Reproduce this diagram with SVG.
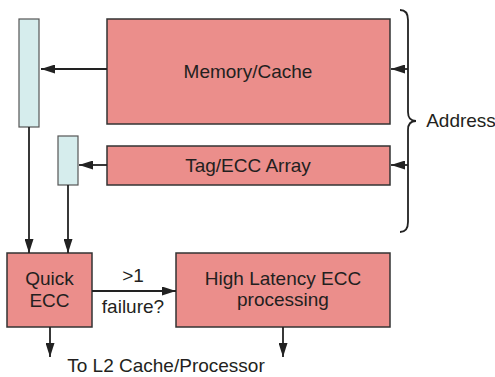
<svg xmlns="http://www.w3.org/2000/svg" width="495" height="377" viewBox="0 0 495 377">
<style>
.box{fill:#eb8e8b;stroke:#333;stroke-width:1.5}
.reg{fill:#d6eded;stroke:#555;stroke-width:1.2}
.ln{fill:none;stroke:#222;stroke-width:1.8}
text{font-family:"Liberation Sans",Arial,sans-serif;font-size:19px;fill:#231f20;text-anchor:middle}
</style>
<defs>
<marker id="ah" markerWidth="14" markerHeight="9" refX="14" refY="4.5" orient="auto" markerUnits="userSpaceOnUse">
<path d="M0,0 L14,4.5 L0,9 z" fill="#222"/>
</marker>
</defs>
<g id="mem"><rect class="box" x="107" y="19" width="283" height="105"/><text x="248" y="78">Memory/Cache</text></g>
<g id="tag"><rect class="box" x="107" y="146" width="283" height="39"/><text x="248" y="172">Tag/ECC Array</text></g>
<g id="bar1"><rect class="reg" x="19" y="19" width="20" height="108"/></g>
<g id="bar2"><rect class="reg" x="58" y="136" width="20" height="49"/></g>
<g id="quick"><rect class="box" x="7" y="253" width="85" height="74"/><text x="49.5" y="285">Quick</text><text x="49.5" y="307">ECC</text></g>
<g id="high"><rect class="box" x="176" y="253" width="214" height="74"/><text x="283" y="285">High Latency ECC</text><text x="283" y="306">processing</text></g>
<g id="address"><path class="ln" stroke-width="1.3" d="M400,10 Q408,10 408,20 L408,112 Q408,121 416,121 Q408,121 408,130 L408,222 Q408,232 400,232"/><text x="461" y="127">Address</text></g>
<g id="labels"><text x="133" y="282">&gt;1</text><text x="133" y="313">failure?</text><text x="166" y="372">To L2 Cache/Processor</text></g>
<g id="connectors">
<line class="ln" x1="107" y1="69" x2="41" y2="69" marker-end="url(#ah)"/>
<line class="ln" x1="107" y1="165" x2="79" y2="165" marker-end="url(#ah)"/>
<line class="ln" x1="408" y1="69" x2="391" y2="69" marker-end="url(#ah)"/>
<line class="ln" x1="408" y1="165" x2="391" y2="165" marker-end="url(#ah)"/>
<line class="ln" x1="29" y1="127" x2="29" y2="253" marker-end="url(#ah)"/>
<line class="ln" x1="68" y1="185" x2="68" y2="253" marker-end="url(#ah)"/>
<line class="ln" x1="92" y1="291" x2="176" y2="291" marker-end="url(#ah)"/>
<line class="ln" x1="50" y1="327" x2="50" y2="357" marker-end="url(#ah)"/>
<line class="ln" x1="283" y1="327" x2="283" y2="357" marker-end="url(#ah)"/>
</g>
</svg>
